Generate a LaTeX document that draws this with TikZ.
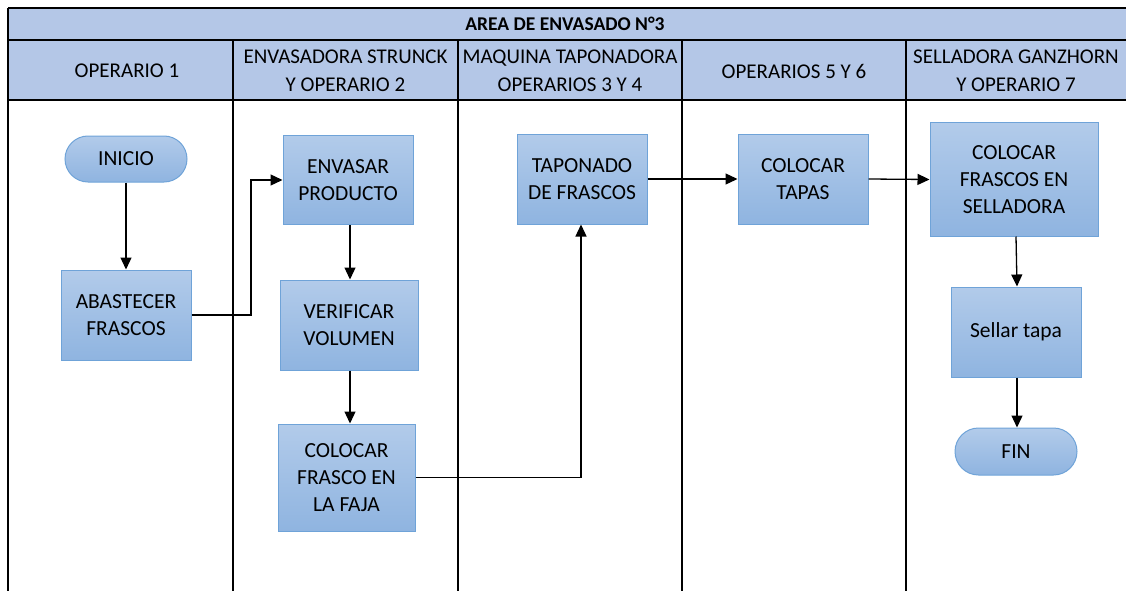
\documentclass[tikz,border=0pt]{standalone}
\usepackage{fontspec}
\setmainfont{Carlito}
\usetikzlibrary{arrows.meta,shapes.misc}
\definecolor{hdrfill}{HTML}{B4C7E7}
\definecolor{boxtop}{HTML}{B2CBEA}
\definecolor{boxbot}{HTML}{8FB4E0}
\definecolor{boxline}{HTML}{6FA3D8}
\tikzset{
  lane/.style={line width=2.2pt,black},
  proc/.style={draw=boxline,line width=1pt,top color=boxtop,bottom color=boxbot,
    align=center,inner sep=0pt,font=\fontsize{21.5}{27}\selectfont},
  term/.style={proc,rounded rectangle},
  hdr/.style={align=center,font=\fontsize{21}{28}\selectfont},
  conn/.style={line width=1.3pt,-{Triangle[length=12pt,width=11pt]}}
}
\begin{document}
\begin{tikzpicture}[x=1pt,y=-1pt]
\useasboundingbox (0,0) rectangle (1126,591);
% header fill
\fill[hdrfill] (8,8) rectangle (1140,100);
% lines
\draw[lane] (8,8) -- (1140,8);
\draw[lane] (8,40) -- (1140,40);
\draw[lane] (8,100) -- (1140,100);
\foreach \x in {8,233,458,682,906}{\draw[lane] (\x,40) -- (\x,600);}
\draw[lane] (8,8) -- (8,40);
% header texts
\node[font=\bfseries\fontsize{19.5}{24}\selectfont] (title) at (565,24) {AREA DE ENVASADO N°3};
\node[hdr] (h1) at (127,71) {OPERARIO 1};
\node[hdr] (h2) at (345.5,71) {ENVASADORA STRUNCK\\Y OPERARIO 2};
\node[hdr] (h3) at (570,71) {MAQUINA TAPONADORA\\OPERARIOS 3 Y 4};
\node[hdr] (h4) at (794,71) {OPERARIOS 5 Y 6};
\node[hdr] (h5) at (1016,71) {SELLADORA GANZHORN\\Y OPERARIO 7};
% nodes
\node[term,minimum width=122pt,minimum height=46pt] (inicio) at (126,159) {INICIO};
\node[proc,minimum width=130pt,minimum height=90pt] (abast) at (126,315) {ABASTECER\\FRASCOS};
\node[proc,minimum width=130pt,minimum height=89pt] (envasar) at (348,180) {ENVASAR\\PRODUCTO};
\node[proc,minimum width=138pt,minimum height=90pt] (verif) at (349,325) {VERIFICAR\\VOLUMEN};
\node[proc,minimum width=137pt,minimum height=107pt] (faja) at (346.5,477.5) {COLOCAR\\FRASCO EN\\LA FAJA};
\node[proc,minimum width=130pt,minimum height=90pt] (tapon) at (582,179) {TAPONADO\\DE FRASCOS};
\node[proc,minimum width=130pt,minimum height=90pt] (tapas) at (803,179) {COLOCAR\\TAPAS};
\node[proc,minimum width=168pt,minimum height=113pt] (sella) at (1014,179.5) {COLOCAR\\FRASCOS EN\\SELLADORA};
\node[proc,minimum width=130pt,minimum height=90pt] (sellar) at (1016,332) {Sellar tapa};
\node[term,minimum width=122pt,minimum height=47pt] (fin) at (1016,451.5) {FIN};
% connectors
\draw[conn] (inicio.south) -- (abast.north);
\draw[conn] (abast.east) -- (251,315) |- (envasar.west);
\draw[conn] (envasar.south -| 350,0) -- (verif.north -| 350,0);
\draw[conn] (verif.south -| 350,0) -- (faja.north -| 350,0);
\draw[conn] (faja.east) -| (tapon.south -| 581,0);
\draw[conn] (tapon.east) -- (tapas.west);
\draw[conn] (tapas.east) -- (sella.west);
\draw[conn] (sella.south -| 1016,0) -- (sellar.north -| 1017,0);
\draw[conn] (sellar.south -| 1017,0) -- (fin.north -| 1017,0);
\end{tikzpicture}
\end{document}
